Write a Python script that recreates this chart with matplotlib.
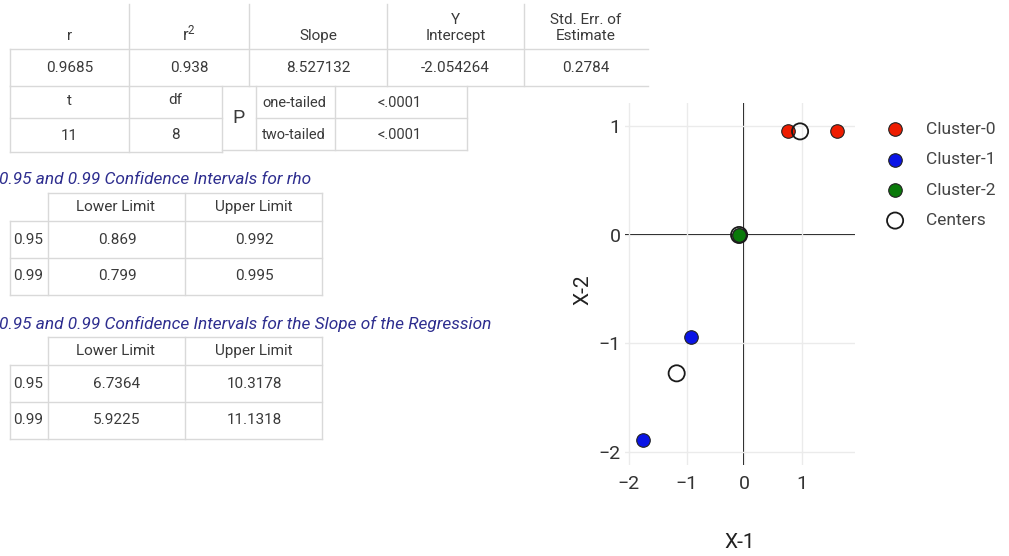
import numpy as np
import matplotlib.pyplot as plt

plt.rcParams['font.family'] = ['Roboto', 'DejaVu Sans']
plt.rcParams['mathtext.fontset'] = 'custom'
plt.rcParams['mathtext.rm'] = 'Roboto'
plt.rcParams['mathtext.it'] = 'Roboto:italic'

# ---- dane tabel ----
hdr_main = ['r', r'r$^\mathrm{2}$', 'Slope', 'Y\nIntercept', 'Std. Err. of\nEstimate']
val_main = ['0.9685', '0.938', '8.527132', '-2.054264', '0.2784']
hdr_t = ['t', 'df']
val_t = ['11', '8']
p_labels = ['one-tailed', 'two-tailed']
p_values = ['<.0001', '<.0001']

ci_cols = ['Lower Limit', 'Upper Limit']
ci_levels = ['0.95', '0.99']
rho_lower = ['0.869', '0.799']
rho_upper = ['0.992', '0.995']
slope_lower = ['6.7364', '5.9225']
slope_upper = ['10.3178', '11.1318']

title_rho = '0.95 and 0.99 Confidence Intervals for rho'
title_slope = '0.95 and 0.99 Confidence Intervals for the Slope of the Regression'

# ---- dane wykresu ----
c0_x = [0.76, 1.60]
c0_y = [0.955, 0.955]
c1_x = [-0.92, -1.75]
c1_y = [-0.937, -1.894]
c2_x = [-0.09, -0.10]
c2_y = [0.0, 0.0]
ctr_x = [0.965, -1.17, -0.09]
ctr_y = [0.955, -1.275, 0.0]

W, H = 1009, 556
fig = plt.figure(figsize=(W / 100, H / 100), dpi=100)

# warstwa z tabelami w pikselach
ax0 = fig.add_axes([0, 0, 1, 1])
ax0.set_xlim(0, W)
ax0.set_ylim(H, 0)
ax0.axis('off')

LC = '#d9d9d9'
TC = '#3a3a3a'
FS = 11


def hl(y, x1, x2):
    ax0.plot([x1, x2], [y, y], color=LC, lw=1)


def vl(x, y1, y2):
    ax0.plot([x, x], [y1, y2], color=LC, lw=1)


def txt(x, y, s, size=FS, ha='center', **kw):
    ax0.text(x, y, s, ha=ha, va='center', fontsize=size, color=TC, **kw)


# tabela glowna
main_cols = [10, 129, 249, 387, 524, 648]
hl(49, 10, 648)
hl(86, 10, 648)
vl(10, 49, 86)
for x in main_cols[1:-1]:
    vl(x, 4, 86)
for i in range(5):
    cx = (main_cols[i] + main_cols[i + 1]) / 2
    if '\n' in hdr_main[i]:
        txt(cx, 28, hdr_main[i], linespacing=1.2)
    elif '$' in hdr_main[i]:
        txt(cx, 33, hdr_main[i], size=12)
    else:
        txt(cx, 36, hdr_main[i])
    txt(cx, 68, val_main[i])

# t / df
hl(118, 10, 222)
hl(152, 10, 222)
for x in [10, 129, 222]:
    vl(x, 86, 152)
txt(69, 101, hdr_t[0])
txt(175, 100, hdr_t[1])
txt(69, 136, val_t[0])
txt(175, 135, val_t[1])

# P
hl(118, 256, 467)
hl(150, 222, 467)
for x in [256, 335, 467]:
    vl(x, 86, 150)
txt(239, 118, 'P', size=14)
for i, y in enumerate([103, 135]):
    txt(262, y, p_labels[i], size=10.5, ha='left')
    txt(400, y, p_values[i], size=10.5)

BLUE_T = '#2e2e8f'


def ci_table(top, title_y, title, lower, upper):
    ax0.text(-1, title_y, title, ha='left', va='center', fontsize=12.4,
             style='italic', color=BLUE_T)
    rows = [top, top + 28, top + 65, top + 102]
    hl(rows[0], 48, 322)
    for y in rows[1:]:
        hl(y, 10, 322)
    for x in [48, 185, 322]:
        vl(x, rows[0], rows[3])
    vl(10, rows[1], rows[3])
    txt(116, (rows[0] + rows[1]) / 2, ci_cols[0])
    txt(254, (rows[0] + rows[1]) / 2, ci_cols[1])
    for i in range(2):
        cy = (rows[i + 1] + rows[i + 2]) / 2
        txt(13, cy, ci_levels[i], ha='left')
        txt(117, cy, lower[i])
        txt(254, cy, upper[i])


ci_table(193, 180, title_rho, rho_lower, rho_upper)
ci_table(337, 324, title_slope, slope_lower, slope_upper)

# ---- wykres rozrzutu ----
x0, x1 = -2.07, 1.92
y0, y1 = -2.12, 1.22
px_l = 744.3 + x0 * 57.8
px_r = 744.3 + x1 * 57.8
py_t = 235 - y1 * 108.5
py_b = 235 - y0 * 108.5
ax = fig.add_axes([px_l / W, 1 - py_b / H, (px_r - px_l) / W, (py_b - py_t) / H])
ax.set_xlim(x0, x1)
ax.set_ylim(y0, y1)
for s in ax.spines.values():
    s.set_visible(False)
ax.set_xticks([-2, -1, 0, 1])
ax.set_yticks([-2, -1, 0, 1])
ax.grid(True, color='#ebebeb', lw=1)
ax.tick_params(length=0, labelsize=14, labelcolor='#333333')
ax.tick_params(axis='x', pad=7)
ax.tick_params(axis='y', pad=3)
ax.axhline(0, color='black', lw=1.4, zorder=1)
ax.axvline(0, color='black', lw=1.4, zorder=1)

ms = 95
ax.scatter(c0_x, c0_y, s=ms, c='#ee1c00', edgecolors='#222222', linewidths=0.8,
           zorder=3, label='Cluster-0')
ax.scatter(c1_x, c1_y, s=ms, c='#0a14e6', edgecolors='#222222', linewidths=0.8,
           zorder=3, label='Cluster-1')
ax.scatter(c2_x, c2_y, s=ms, c='#0a7a0a', edgecolors='#222222', linewidths=0.8,
           zorder=3, label='Cluster-2')
ax.scatter(ctr_x, ctr_y, s=135, facecolors='none', edgecolors='#1a1a1a',
           linewidths=1.3, zorder=4, label='Centers')

fig.text(583 / W, 1 - 290 / H, 'X-2', rotation=90, ha='center', va='center',
         fontsize=15, color='#222222')
fig.text(740 / W, 1 - 543 / H, 'X-1', ha='center', va='center',
         fontsize=15, color='#222222')

leg = fig.legend(loc='upper left', bbox_to_anchor=(876 / W, 1 - 113 / H),
                 frameon=False, fontsize=12.5, labelspacing=0.88,
                 handletextpad=1.2, borderpad=0, handlelength=1.2)
for t in leg.get_texts():
    t.set_color('#444444')

fig.savefig('out.png', dpi=100)
